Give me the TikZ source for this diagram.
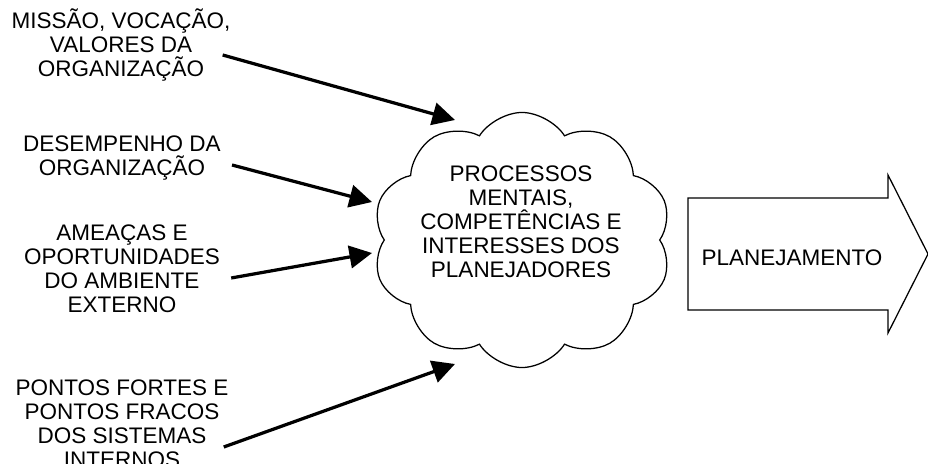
\documentclass[tikz,border=0pt]{standalone}
\usepackage{fontspec}
\setmainfont{Liberation Sans}
\usetikzlibrary{arrows.meta, shapes.symbols}

\begin{document}
\begin{tikzpicture}[x=0.025cm, y=-0.025cm,
  inputtext/.style={align=center, inner sep=0pt, font=\fontsize{16}{17}\selectfont},
  feed/.style={-{Triangle[length=16pt, width=16pt]}, line width=2.3pt},
  thought/.style={cloud, draw, line width=0.9pt, cloud puffs=10, cloud puff arc=115, aspect=1.17,
    minimum width=7.475cm, minimum height=6.375cm, inner sep=0pt}]

\useasboundingbox (0,0) rectangle (928,464);

% Inputs on the left
\node[inputtext] (mission) at (121,45) {MISSÃO, VOCAÇÃO,\\VALORES DA\\ORGANIZAÇÃO};
\node[inputtext] (perf) at (122,158) {DESEMPENHO DA\\ORGANIZAÇÃO};
\node[inputtext] (env) at (122,269) {AMEAÇAS E\\OPORTUNIDADES\\DO AMBIENTE\\EXTERNO};
\node[inputtext] (intern) at (122,424) {PONTOS FORTES E\\PONTOS FRACOS\\DOS SISTEMAS\\INTERNOS};

% The cloud of the planners
\node[thought] (cloud) at (522,240) {};
\node[inputtext] (proc) at (521,222) {PROCESSOS\\MENTAIS,\\COMPETÊNCIAS E\\INTERESSES DOS\\PLANEJADORES};

% Arrow tips next to the cloud
\coordinate (tipA) at (455,120);
\coordinate (tipB) at (372,202);
\coordinate (tipC) at (372,253);
\coordinate (tipD) at (455,364);

\draw[feed] ([shift={(-8,10)}]mission.east) -- (tipA);
\draw[feed] ([shift={(11,7)}]perf.east) -- (tipB);
\draw[feed] ([shift={(11,9)}]env.east) -- (tipC);
\draw[feed] ([shift={(-5,23)}]intern.east) -- (tipD);

% Big arrow on the right
\draw[line width=0.9pt, line join=miter] (688,198) -- (888,198) -- (888,175) -- (928,254)
  -- (888,333) -- (888,310) -- (688,310) -- cycle;
\node[inputtext] (plan) at (792,258) {PLANEJAMENTO};

\end{tikzpicture}
\end{document}
